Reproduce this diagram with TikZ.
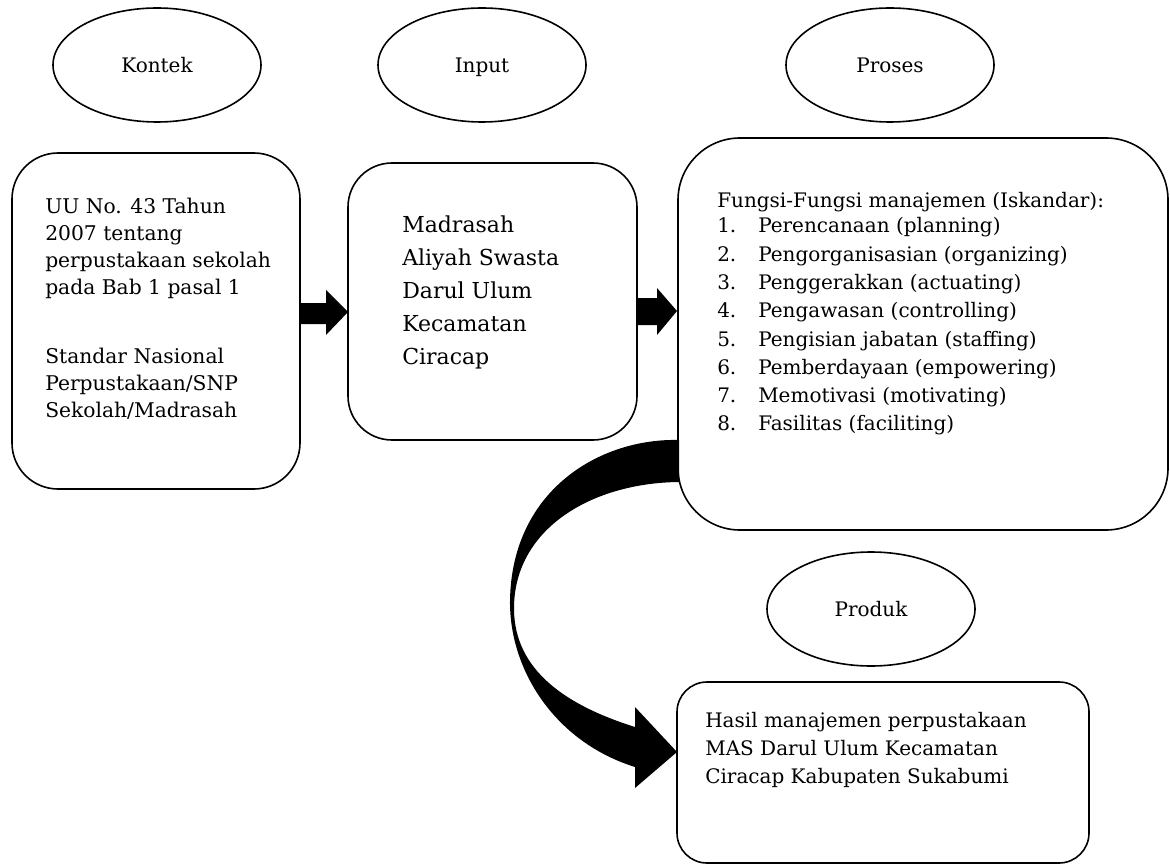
\documentclass[tikz,border=0pt]{standalone}
\usepackage{fontspec}
\setmainfont{DejaVu Serif}
\usetikzlibrary{shapes.geometric}
\begin{document}
\begin{tikzpicture}[x=0.75pt,y=-0.75pt,
  oval/.style={draw, ellipse, line width=1.2pt, minimum width=156pt, minimum height=85.5pt, inner sep=0pt, text height=11pt, text depth=0pt, font=\fontsize{15pt}{18pt}\selectfont},
  rbox/.style={draw, line width=1.2pt, inner sep=0pt},
  txt/.style={anchor=base west, inner sep=0pt},
  blockarrow/.style={fill=black, draw=none}]
\useasboundingbox (0,0) rectangle (1170,866);

% ellipses
\node[oval] (kontek) at (157,65) {Kontek};
\node[oval] (input) at (482,65) {Input};
\node[oval] (proses) at (890,65) {Proses};
\node[oval] (produk) at (871,609) {Produk};

% boxes
\node[rbox, rounded corners=34.5pt, minimum width=216pt, minimum height=252pt] (b1) at (156,321) {};
\node[rbox, rounded corners=33pt, minimum width=216.75pt, minimum height=207.75pt] (b2) at (492.5,301.5) {};
\node[rbox, rounded corners=46.5pt, minimum width=367.5pt, minimum height=294pt] (b3) at (923,334) {};
\node[rbox, rounded corners=22.5pt, minimum width=309pt, minimum height=135.75pt] (b4) at (883,772.5) {};

% texts
\node[txt] (t1a) at (45,214) {\parbox[t]{220pt}{\fontsize{15.2pt}{20.25pt}\selectfont
UU No. 43 Tahun\\2007 tentang\\perpustakaan sekolah\\pada Bab 1 pasal 1}};
\node[txt] (t1b) at (45,363) {\parbox[t]{220pt}{\fontsize{15.2pt}{20.5pt}\selectfont
Standar Nasional\\Perpustakaan/SNP\\Sekolah/Madrasah}};
\node[txt] (t2) at (402,233) {\parbox[t]{200pt}{\fontsize{16.5pt}{24.75pt}\selectfont
Madrasah\\Aliyah Swasta\\Darul Ulum\\Kecamatan\\Ciracap}};
\node[txt] (t3h) at (717,208) {\fontsize{15pt}{18pt}\selectfont Fungsi-Fungsi manajemen (Iskandar):};
\node[txt] (t3) at (717,233) {\parbox[t]{340pt}{\fontsize{15pt}{21.2pt}\selectfont
\makebox[30.75pt][l]{1.}Perencanaan (planning)\\
\makebox[30.75pt][l]{2.}Pengorganisasian (organizing)\\
\makebox[30.75pt][l]{3.}Penggerakkan (actuating)\\
\makebox[30.75pt][l]{4.}Pengawasan (controlling)\\
\makebox[30.75pt][l]{5.}Pengisian jabatan (staffing)\\
\makebox[30.75pt][l]{6.}Pemberdayaan (empowering)\\
\makebox[30.75pt][l]{7.}Memotivasi (motivating)\\
\makebox[30.75pt][l]{8.}Fasilitas (faciliting)}};
\node[txt] (t4) at (705,727) {\parbox[t]{300pt}{\fontsize{15pt}{21pt}\selectfont
Hasil manajemen perpustakaan\\MAS Darul Ulum Kecamatan\\Ciracap Kabupaten Sukabumi}};

% block arrows
\fill[blockarrow] (300,303) -- (326,303) -- (326,290) -- (348,312) -- (326,335) -- (326,324) -- (300,324) -- cycle;
\fill[blockarrow] (637,298) -- (657,298) -- (657,288) -- (677,311) -- (657,335) -- (657,325) -- (637,325) -- cycle;

% curved arrow
\fill[blockarrow] (679,440) .. controls (600,438) and (512,490) .. (510,600)
  .. controls (509,670) and (555,742) .. (635,767) -- (635,788) -- (677,752) -- (635,707) -- (635,727)
  .. controls (565,705) and (515,670) .. (514,610) .. controls (513,530) and (590,483) .. (679,482) -- cycle;
\end{tikzpicture}
\end{document}
